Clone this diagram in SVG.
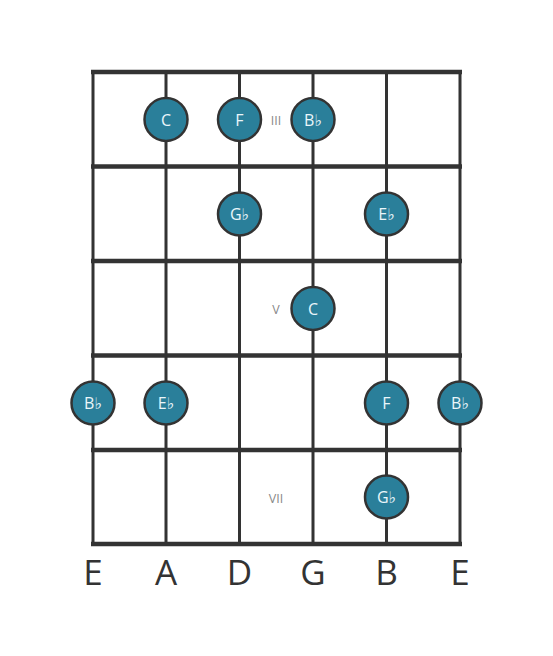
<svg xmlns="http://www.w3.org/2000/svg" width="553" height="656" viewBox="0 0 553 656">
<style>
.str{stroke:#333;stroke-width:3}
.fret{stroke:#333;stroke-width:4.5}
.dot circle{fill:#2a7f9a;stroke:#333;stroke-width:2.5}
.dot text{fill:#eaf6fa;font-family:"Open Sans","DejaVu Sans",sans-serif;font-size:16px;text-anchor:middle;dominant-baseline:central}
.fl{fill:#888;font-family:"Open Sans","DejaVu Sans",sans-serif;font-size:12.5px;text-anchor:middle;dominant-baseline:central}
.sl{fill:#333;font-family:"Open Sans","DejaVu Sans",sans-serif;font-size:35px;text-anchor:middle}
</style>
<rect width="553" height="656" fill="#fff"/>
<g id="fretboard">
<line class="str" x1="93" y1="72" x2="93" y2="544"/>
<line class="str" x1="166" y1="72" x2="166" y2="544"/>
<line class="str" x1="239.5" y1="72" x2="239.5" y2="544"/>
<line class="str" x1="313" y1="72" x2="313" y2="544"/>
<line class="str" x1="386.5" y1="72" x2="386.5" y2="544"/>
<line class="str" x1="460" y1="72" x2="460" y2="544"/>
<line class="fret" x1="91" y1="72" x2="462" y2="72"/>
<line class="fret" x1="91" y1="166.5" x2="462" y2="166.5"/>
<line class="fret" x1="91" y1="261" x2="462" y2="261"/>
<line class="fret" x1="91" y1="355.5" x2="462" y2="355.5"/>
<line class="fret" x1="91" y1="450" x2="462" y2="450"/>
<line class="fret" x1="91" y1="544" x2="462" y2="544"/>
</g>
<g id="fret-labels">
<text class="fl" x="276" y="120">III</text>
<text class="fl" x="276" y="309">V</text>
<text class="fl" x="276" y="498">VII</text>
</g>
<g id="n1" class="dot"><circle cx="166" cy="119.5" r="21.5"/><text x="166" y="119.5">C</text></g>
<g id="n2" class="dot"><circle cx="239.5" cy="119.5" r="21.5"/><text x="239.5" y="119.5">F</text></g>
<g id="n3" class="dot"><circle cx="313" cy="119.5" r="21.5"/><text x="313" y="119.5">B♭</text></g>
<g id="n4" class="dot"><circle cx="239.5" cy="214" r="21.5"/><text x="239.5" y="214">G♭</text></g>
<g id="n5" class="dot"><circle cx="386.5" cy="214" r="21.5"/><text x="386.5" y="214">E♭</text></g>
<g id="n6" class="dot"><circle cx="313" cy="308.5" r="21.5"/><text x="313" y="308.5">C</text></g>
<g id="n7" class="dot"><circle cx="93" cy="403" r="21.5"/><text x="93" y="403">B♭</text></g>
<g id="n8" class="dot"><circle cx="166" cy="403" r="21.5"/><text x="166" y="403">E♭</text></g>
<g id="n9" class="dot"><circle cx="386.5" cy="403" r="21.5"/><text x="386.5" y="403">F</text></g>
<g id="n10" class="dot"><circle cx="460" cy="403" r="21.5"/><text x="460" y="403">B♭</text></g>
<g id="n11" class="dot"><circle cx="386.5" cy="497" r="21.5"/><text x="386.5" y="497">G♭</text></g>
<g id="string-labels">
<text class="sl" x="93" y="585">E</text>
<text class="sl" x="166" y="585">A</text>
<text class="sl" x="239.5" y="585">D</text>
<text class="sl" x="313" y="585">G</text>
<text class="sl" x="386.5" y="585">B</text>
<text class="sl" x="460" y="585">E</text>
</g>
</svg>
